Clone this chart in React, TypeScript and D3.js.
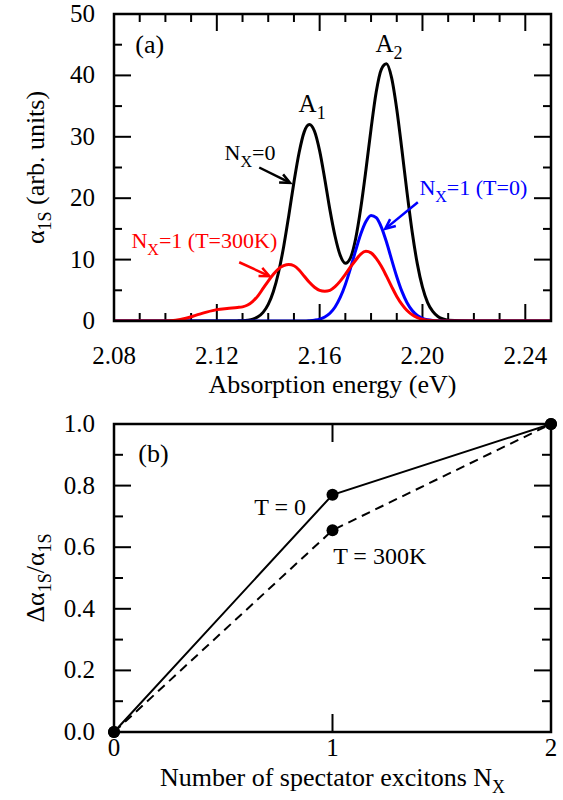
import React from 'react';
import * as d3 from 'd3';

// panel (a): absorption spectra
const energy = [2.080, 2.090, 2.100, 2.104, 2.108, 2.112, 2.116, 2.120, 2.124, 2.128,
  2.130, 2.132, 2.134, 2.136, 2.138, 2.140, 2.142, 2.144, 2.146, 2.148,
  2.150, 2.152, 2.154, 2.156, 2.158, 2.160, 2.162, 2.164, 2.166, 2.168,
  2.170, 2.172, 2.174, 2.176, 2.178, 2.180, 2.182, 2.184, 2.186, 2.188,
  2.190, 2.192, 2.194, 2.196, 2.198, 2.200, 2.202, 2.204, 2.206, 2.208,
  2.210, 2.220, 2.235, 2.250];
const nx0 = [0, 0, 0, 0, 0, 0, 0, 0, 0, 0.02,
  0.05, 0.13, 0.3, 0.68, 1.4, 2.7, 4.8, 7.9, 12.1, 17.2,
  22.6, 27.4, 30.8, 32.0, 30.9, 27.7, 23.1, 18.1, 13.8, 10.7,
  9.4, 10.3, 13.4, 18.4, 24.6, 31.3, 37.3, 41.0, 41.9, 39.6,
  34.5, 27.9, 20.9, 14.5, 9.3, 5.5, 3.0, 1.55, 0.73, 0.32,
  0.13, 0, 0, 0];
const nx1T0 = [0, 0, 0, 0, 0, 0, 0, 0, 0, 0,
  0, 0, 0, 0, 0, 0, 0, 0, 0, 0,
  0, 0, 0, 0.05, 0.14, 0.3, 0.64, 1.26, 2.28, 3.83,
  5.96, 8.58, 11.46, 14.16, 16.2, 17.2, 16.83, 15.3, 12.86, 10.0,
  7.22, 4.82, 2.98, 1.71, 0.9, 0.44, 0.2, 0.08, 0.03, 0,
  0, 0, 0, 0];
const nx1T300 = [0, 0, 0.02, 0.12, 0.45, 0.95, 1.45, 1.85, 2.05, 2.2,
  2.3, 2.6, 3.2, 4.1, 5.3, 6.5, 7.6, 8.5, 9.0, 9.2,
  9.0, 8.3, 7.3, 6.3, 5.5, 5.0, 4.85, 5.0, 5.6, 6.5,
  7.6, 8.8, 9.9, 10.9, 11.35, 11.1, 10.2, 8.9, 7.3, 5.6,
  4.0, 2.7, 1.7, 1.0, 0.55, 0.25, 0.12, 0.05, 0.02, 0,
  0, 0, 0, 0];
const xTickLabelsA = ['2.08', '2.12', '2.16', '2.20', '2.24'];
const yTickLabelsA = ['0', '10', '20', '30', '40', '50'];

// panel (b): relative bleaching vs number of spectator excitons
const nSpectators = [0, 1, 2];
const bleachT0 = [0, 0.77, 1.0];
const bleachT300 = [0, 0.655, 1.0];
const xTickLabelsB = ['0', '1', '2'];
const yTickLabelsB = ['0.0', '0.2', '0.4', '0.6', '0.8', '1.0'];

const W = 563, H = 800;
const font = "'Liberation Serif', 'DejaVu Serif', serif";

function App() {
  const A = { left: 114, right: 551, top: 14, bottom: 321 };
  const B = { left: 114, right: 551, top: 424, bottom: 732 };

  const xa = d3.scaleLinear().domain([2.08, 2.25]).range([A.left, A.right]);
  const ya = d3.scaleLinear().domain([0, 50]).range([A.bottom, A.top]);
  const xb = d3.scaleLinear().domain([0, 2]).range([B.left, B.right]);
  const yb = d3.scaleLinear().domain([0, 1]).range([B.bottom, B.top]);

  const lineA = (vals: number[]) =>
    d3.line<number>()
      .x((_, i) => xa(energy[i]))
      .y((d) => ya(d))
      .curve(d3.curveMonotoneX)(vals) as string;
  const lineB = (vals: number[]) =>
    d3.line<number>()
      .x((_, i) => xb(nSpectators[i]))
      .y((d) => yb(d))(vals) as string;

  const tickFs = 25;
  const titleFs = 26;
  const labFs = 22;
  const subFs = 18;

  const xTicksA = d3.range(0, 18).map((i) => 2.08 + i * 0.01);
  const yTicksA = d3.range(0, 11).map((i) => i * 5);
  const yTicksB = d3.range(0, 11).map((i) => i * 0.1);

  // simple line arrow with open V head
  const arrow = (x1: number, y1: number, x2: number, y2: number, color: string, key: string) => {
    const ang = Math.atan2(y2 - y1, x2 - x1);
    const len = 11, spread = 0.42;
    const p1 = [x2 - len * Math.cos(ang - spread), y2 - len * Math.sin(ang - spread)];
    const p2 = [x2 - len * Math.cos(ang + spread), y2 - len * Math.sin(ang + spread)];
    return (
      <g key={key}>
        <line x1={x1} y1={y1} x2={x2 - 2 * Math.cos(ang)} y2={y2 - 2 * Math.sin(ang)} stroke={color} strokeWidth={2.5} />
        <path d={`M${p1[0]},${p1[1]}L${x2},${y2}L${p2[0]},${p2[1]}`} fill="none" stroke={color} strokeWidth={2.5} />
      </g>
    );
  };

  const subDy = 7;

  return (
    <svg width={W} height={H} style={{ position: 'absolute', left: 0, top: 0, background: '#fff', fontFamily: font }}>
      <defs>
        <clipPath id="clipA">
          <rect x={A.left} y={A.top} width={A.right - A.left} height={A.bottom - A.top} />
        </clipPath>
      </defs>

      {/* ---------- panel (a) ---------- */}
      {xTicksA.map((t, i) => {
        const major = i % 4 === 0;
        const l = major ? 17 : 8;
        const x = xa(t);
        return (
          <g key={'xa' + i} stroke="#000" strokeWidth={2}>
            <line x1={x} x2={x} y1={A.bottom} y2={A.bottom - l} />
            <line x1={x} x2={x} y1={A.top} y2={A.top + l} />
          </g>
        );
      })}
      {yTicksA.map((t, i) => {
        const major = i % 2 === 0;
        const l = major ? 17 : 8;
        const y = ya(t);
        return (
          <g key={'ya' + i} stroke="#000" strokeWidth={2}>
            <line x1={A.left} x2={A.left + l} y1={y} y2={y} />
            <line x1={A.right} x2={A.right - l} y1={y} y2={y} />
          </g>
        );
      })}
      {xTickLabelsA.map((s) => (
        <text key={s} x={xa(+s)} y={A.bottom + 43} fontSize={tickFs} textAnchor="middle">{s}</text>
      ))}
      {yTickLabelsA.map((s) => (
        <text key={s} x={A.left - 19} y={ya(+s) + 8} fontSize={tickFs} textAnchor="end">{s}</text>
      ))}
      <text x={(A.left + A.right) / 2} y={A.bottom + 72} fontSize={titleFs} textAnchor="middle">Absorption energy (eV)</text>
      <text transform={`translate(44,${(A.top + A.bottom) / 2}) rotate(-90)`} fontSize={titleFs} textAnchor="middle">
        <tspan>α</tspan><tspan dy={subDy} fontSize={subFs}>1S</tspan><tspan dy={-subDy}> (arb. units)</tspan>
      </text>

      <g clipPath="url(#clipA)" fill="none" strokeWidth={3} strokeLinejoin="round">
        <path d={lineA(nx0)} stroke="#000" />
        <path d={lineA(nx1T0)} stroke="#0000ff" />
        <path d={lineA(nx1T300)} stroke="#ff0000" />
      </g>
      <rect x={A.left} y={A.top} width={A.right - A.left} height={A.bottom - A.top} fill="none" stroke="#000" strokeWidth={2.5} />

      <text x={xa(2.0883)} y={ya(43.6)} fontSize={titleFs}>(a)</text>
      <text x={xa(2.1518)} y={ya(34.0)} fontSize={tickFs}>
        <tspan>A</tspan><tspan dy={subDy} fontSize={subFs}>1</tspan>
      </text>
      <text x={xa(2.1817)} y={ya(43.8)} fontSize={tickFs}>
        <tspan>A</tspan><tspan dy={subDy} fontSize={subFs}>2</tspan>
      </text>
      <text x={xa(2.123)} y={ya(26.2)} fontSize={labFs} fill="#000">
        <tspan>N</tspan><tspan dy={subDy} fontSize={16}>X</tspan><tspan dy={-subDy}>=0</tspan>
      </text>
      <text x={xa(2.1988)} y={ya(20.5)} fontSize={labFs} fill="#0000ff">
        <tspan>N</tspan><tspan dy={subDy} fontSize={16}>X</tspan><tspan dy={-subDy}>=1 (T=0)</tspan>
      </text>
      <text x={xa(2.0868)} y={ya(11.85)} fontSize={labFs} fill="#ff0000">
        <tspan>N</tspan><tspan dy={subDy} fontSize={16}>X</tspan><tspan dy={-subDy}>=1 (T=300K)</tspan>
      </text>
      {arrow(xa(2.1365), ya(25.0), xa(2.1485), ya(22.5), '#000', 'a0')}
      {arrow(xa(2.1982), ya(19.35), xa(2.1855), ya(15.0), '#0000ff', 'a1')}
      {arrow(xa(2.1287), ya(9.57), xa(2.1405), ya(7.3), '#ff0000', 'a2')}

      {/* ---------- panel (b) ---------- */}
      {[1].map((t) => (
        <g key={'xb' + t} stroke="#000" strokeWidth={2}>
          <line x1={xb(t)} x2={xb(t)} y1={B.bottom} y2={B.bottom - 18} />
          <line x1={xb(t)} x2={xb(t)} y1={B.top} y2={B.top + 18} />
        </g>
      ))}
      {yTicksB.map((t, i) => {
        const major = i % 2 === 0;
        const l = major ? 17 : 9;
        const y = yb(t);
        return (
          <g key={'yb' + i} stroke="#000" strokeWidth={2}>
            <line x1={B.left} x2={B.left + l} y1={y} y2={y} />
            <line x1={B.right} x2={B.right - l} y1={y} y2={y} />
          </g>
        );
      })}
      {xTickLabelsB.map((s) => (
        <text key={s} x={xb(+s)} y={B.bottom + 24} fontSize={tickFs} textAnchor="middle">{s}</text>
      ))}
      {yTickLabelsB.map((s) => (
        <text key={s} x={B.left - 19} y={yb(+s) + 8} fontSize={tickFs} textAnchor="end">{s}</text>
      ))}
      <text x={(B.left + B.right) / 2} y={B.bottom + 54} fontSize={titleFs} textAnchor="middle">
        <tspan>Number of spectator excitons N</tspan><tspan dy={subDy} fontSize={subFs}>X</tspan>
      </text>
      <text transform={`translate(44,${(B.top + B.bottom) / 2}) rotate(-90)`} fontSize={titleFs} textAnchor="middle">
        <tspan>Δα</tspan><tspan dy={subDy} fontSize={subFs}>1S</tspan><tspan dy={-subDy}>/α</tspan><tspan dy={subDy} fontSize={subFs}>1S</tspan>
      </text>

      <rect x={B.left} y={B.top} width={B.right - B.left} height={B.bottom - B.top} fill="none" stroke="#000" strokeWidth={2.5} />
      <path d={lineB(bleachT0)} fill="none" stroke="#000" strokeWidth={2} />
      <path d={lineB(bleachT300)} fill="none" stroke="#000" strokeWidth={2} strokeDasharray="9,6" />
      {nSpectators.map((n, i) => (
        <g key={'pt' + i}>
          <circle cx={xb(n)} cy={yb(bleachT0[i])} r={6} fill="#000" />
          <circle cx={xb(n)} cy={yb(bleachT300[i])} r={6} fill="#000" />
        </g>
      ))}
      <text x={xb(0.111)} y={yb(0.877)} fontSize={titleFs}>(b)</text>
      <text x={xb(0.642)} y={yb(0.705)} fontSize={24}>T = 0</text>
      <text x={xb(1.003)} y={yb(0.545)} fontSize={24}>T = 300K</text>
    </svg>
  );
}

export default App;
